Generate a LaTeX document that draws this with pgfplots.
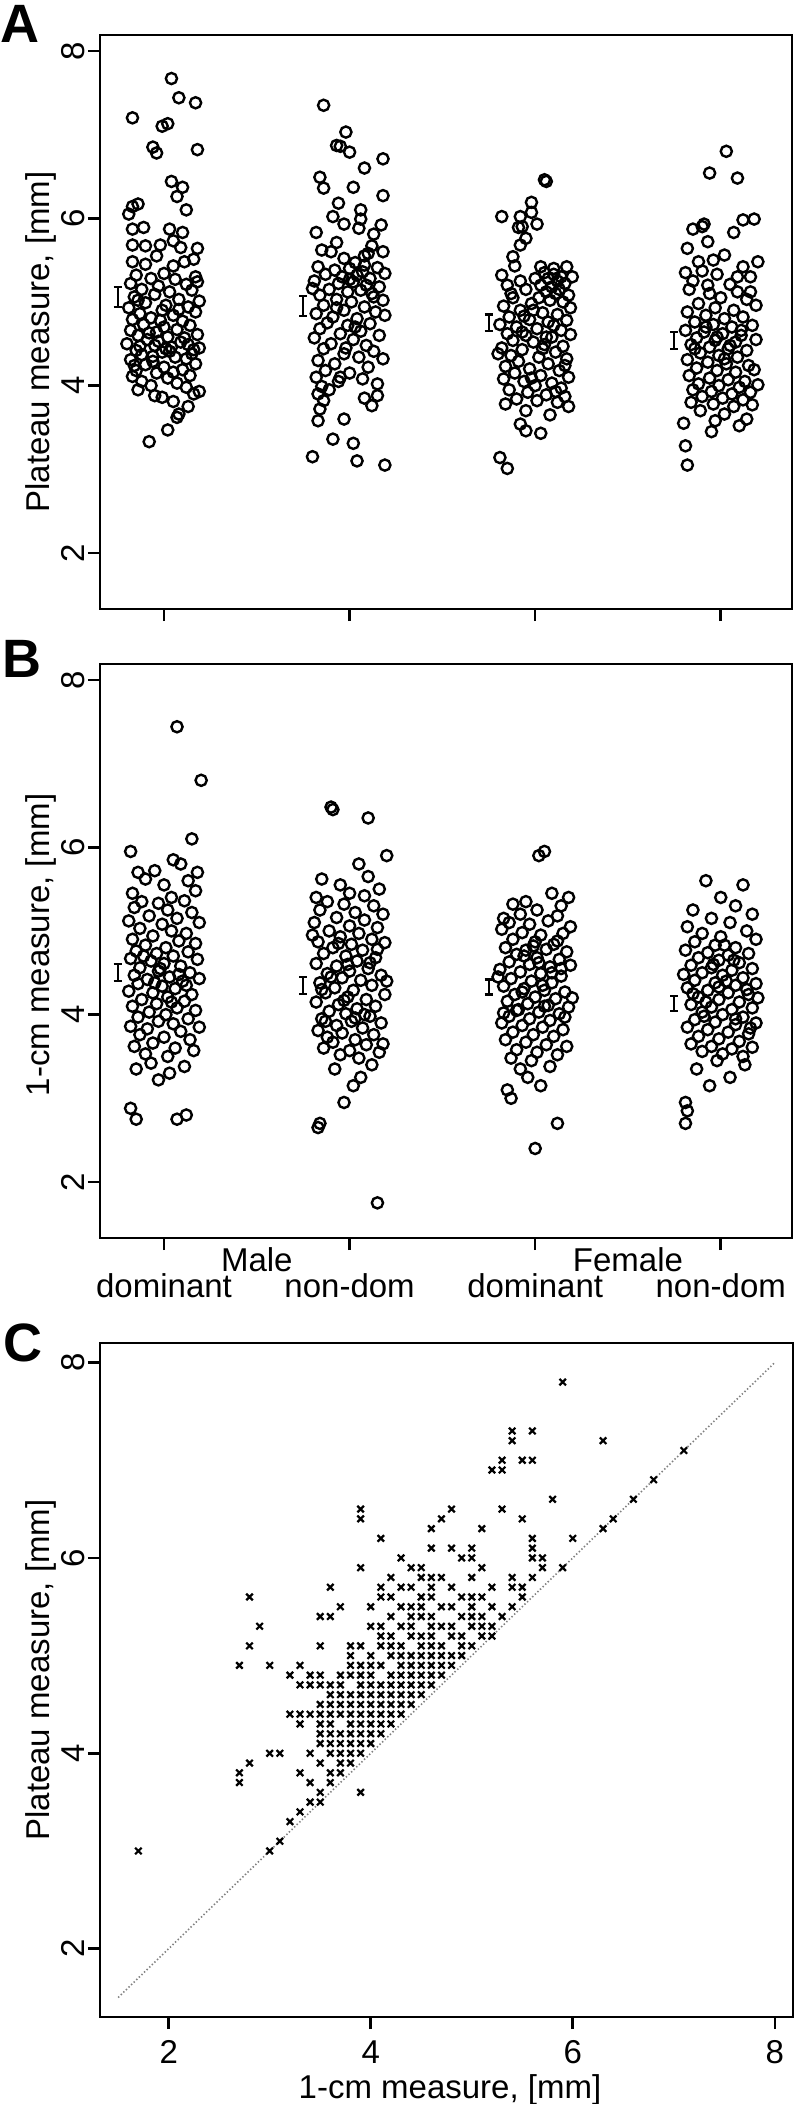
\documentclass[border=0pt]{standalone}
\usepackage{fontspec}
\setmainfont{Liberation Sans}
\usepackage{pgfplots}
\pgfplotsset{compat=1.18}

\pgfplotsset{
  panel/.style={
    scale only axis,
    axis line style={line width=1.3pt},
    every tick/.style={line width=1.3pt, black},
    tick align=outside, major tick length=6pt,
    xtick pos=bottom, ytick pos=left,
    ytick={2,4,6,8},
    ticklabel style={font=\fontsize{16.5}{18}\selectfont},
    yticklabel style={xshift=-1.5pt, rotate=90, anchor=base},
    /pgf/number format/assume math mode=true,
    clip=false,
  },
  strip/.style={panel, width=346pt, height=287pt,
    xmin=0.655, xmax=4.384, ymin=1.33, ymax=8.19, xtick={1,2,3,4}, xticklabels={}},
  ring/.style={only marks, mark=o, mark size=2.8pt, mark options={line width=1.2pt, black}},
  sem/.style={black, line width=1.1pt, unbounded coords=jump},
}
\newcommand{\lab}{\fontsize{16.5}{18}\selectfont}

\begin{document}
\begin{tikzpicture}
\useasboundingbox (0,0) rectangle (397.5pt,-1052pt);

% ---------------- A: plateau measure
\begin{axis}[strip, at={(50pt,-17.5pt)}, anchor=north west]
\addplot[ring] coordinates {
(1.04,7.67)(1.08,7.44)(1.17,7.38)(0.83,7.20)(0.99,7.10)(1.02,7.13)(0.94,6.85)(0.96,6.78)(1.18,6.82)(1.04,6.44)(1.10,6.37)(1.07,6.26)(1.12,6.10)(0.83,6.14)(0.86,6.17)(0.81,6.05)(0.83,5.87)(0.89,5.89)(1.03,5.87)(1.10,5.83)(1.05,5.73)(1.09,5.65)(1.18,5.64)(0.83,5.68)(0.90,5.67)(0.98,5.68)(0.83,5.48)(0.90,5.45)(0.96,5.55)(1.05,5.43)(1.11,5.48)(1.16,5.51)(1.17,5.30)(1.18,5.24)
(0.85,5.32)(0.93,5.28)(1.00,5.34)(1.06,5.27)(0.82,5.22)(0.97,5.19)(1.12,5.21)(0.88,5.15)(1.03,5.12)(1.15,5.14)(0.84,5.06)(0.95,5.09)(1.08,5.03)(0.90,4.99)(1.01,4.96)(1.19,5.01)(0.81,4.93)(0.99,4.90)(1.13,4.94)(0.87,4.86)(1.05,4.84)(1.17,4.88)(0.83,4.79)(0.93,4.81)(1.10,4.77)(0.89,4.73)(1.00,4.70)(1.14,4.72)(0.82,4.66)(0.96,4.64)(1.07,4.67)(0.86,4.60)(1.02,4.58)(1.18,4.61)(0.91,4.55)(1.09,4.52)(0.80,4.50)(0.95,4.48)(1.04,4.46)(1.13,4.49)(0.85,4.42)(0.99,4.40)(1.16,4.43)(0.88,4.37)(1.06,4.34)(0.82,4.31)(0.94,4.29)(1.12,4.32)(0.90,4.25)(1.00,4.22)(1.17,4.26)(0.85,4.18)(0.96,4.15)(1.10,4.19)(0.83,4.11)(1.02,4.09)(1.14,4.12)(0.88,4.05)(1.07,4.03)(0.93,4.00)(1.12,3.98)
(0.92,4.63)(1.11,4.57)(0.87,4.47)(1.03,4.41)(0.97,4.53)(1.15,4.38)(0.84,4.24)(1.05,4.16)(0.98,4.78)(1.08,4.91)(0.86,5.02)(1.01,4.44)(0.94,4.35)(1.19,4.45)
(0.86,3.95)(1.16,3.90)(0.99,3.86)(1.05,3.81)(1.13,3.75)(1.08,3.66)(1.07,3.62)(1.02,3.47)(0.92,3.33)(0.95,3.88)(1.19,3.93)
};
\addplot[ring] coordinates {
(1.86,7.35)(1.98,7.03)(1.93,6.87)(1.95,6.86)(2.00,6.79)(2.08,6.60)(2.18,6.71)(1.84,6.49)(1.86,6.36)(2.02,6.37)(2.18,6.27)(1.94,6.18)(2.06,6.10)(1.91,6.02)(2.06,5.99)(1.97,5.93)(2.05,5.88)(2.17,5.92)(1.82,5.83)(2.13,5.81)(1.93,5.71)(2.12,5.67)(1.85,5.62)(1.90,5.60)(2.18,5.60)(1.97,5.52)(2.03,5.47)(2.08,5.55)(2.10,5.58)
(1.83,5.42)(1.92,5.38)(2.00,5.40)(2.07,5.36)(2.15,5.41)(1.87,5.33)(1.96,5.30)(2.04,5.32)(2.11,5.28)(2.19,5.34)(1.81,5.25)(1.94,5.22)(2.02,5.24)(2.09,5.20)(2.16,5.18)(1.89,5.15)(1.99,5.12)(2.06,5.14)(1.84,5.08)(2.13,5.06)(1.93,5.03)(2.01,5.00)(2.18,5.02)(1.86,4.96)(2.08,4.94)(1.97,4.90)(2.14,4.88)(1.82,4.86)(1.91,4.82)(2.04,4.80)(2.19,4.84)(1.88,4.75)(1.99,4.72)(2.11,4.74)(1.84,4.68)(2.06,4.65)(1.95,4.62)(2.16,4.60)(1.81,4.57)(2.02,4.55)(1.90,4.50)(2.09,4.48)(1.86,4.44)(2.13,4.41)(1.97,4.38)(2.05,4.34)(1.83,4.30)(2.18,4.32)(1.92,4.26)(2.10,4.22)(1.87,4.18)(2.00,4.15)(1.82,4.10)(2.07,4.08)(1.94,4.05)(2.15,4.02)(1.85,3.99)(1.89,3.95)(1.83,3.90)(1.98,4.45)(2.03,4.70)(1.93,4.93)(2.12,5.10)(1.80,5.16)(2.00,5.27)(2.08,5.44)(1.95,4.10)
(1.86,3.82)(1.84,3.72)(2.15,3.88)(2.12,3.76)(1.83,3.58)(1.91,3.36)(2.02,3.31)(1.80,3.15)(2.04,3.10)(2.19,3.05)(1.97,3.60)(2.08,3.85)
};
\addplot[ring] coordinates {
(3.05,6.46)(3.06,6.44)(2.98,6.19)(2.82,6.02)(2.92,6.02)(2.98,6.07)(3.01,5.93)(2.91,5.89)(2.93,5.90)(2.95,5.76)(2.92,5.68)(2.88,5.54)(2.89,5.43)(2.82,5.32)(2.92,5.25)(3.03,5.42)(3.17,5.42)(3.10,5.40)
(3.05,5.35)(3.10,5.33)(3.14,5.30)(3.07,5.28)(3.12,5.25)(3.16,5.22)(3.03,5.20)(3.09,5.18)(3.13,5.15)(3.06,5.12)(3.11,5.10)(3.18,5.08)(3.02,5.05)(3.08,5.02)(3.15,5.00)(2.85,5.20)(2.95,5.15)(2.88,5.05)(2.98,4.98)(2.83,4.95)(3.19,4.93)(2.92,4.90)(3.04,4.87)(3.12,4.85)(2.86,4.82)(2.97,4.79)(3.07,4.76)(3.17,4.78)(2.81,4.73)(2.90,4.70)(3.01,4.68)(3.14,4.66)(2.85,4.62)(2.95,4.60)(3.09,4.58)(3.19,4.61)(2.88,4.54)(2.99,4.52)(3.05,4.49)(3.15,4.47)(2.82,4.45)(2.93,4.43)(3.11,4.40)(2.87,4.36)(3.02,4.34)(3.17,4.32)(2.91,4.29)(3.07,4.26)(2.84,4.23)(2.97,4.20)(3.13,4.18)(2.89,4.15)(3.03,4.12)(3.18,4.10)(2.83,4.08)(2.94,4.05)(3.09,4.03)(3.00,4.00)(3.14,3.97)(2.86,3.95)(2.96,3.92)(3.06,3.89)(3.16,3.87)(2.90,3.84)(3.01,3.82)(3.12,3.80)(2.84,3.78)(3.04,4.44)(2.93,4.64)(3.10,4.72)(2.99,4.90)(3.20,5.30)
(2.87,5.10)(3.00,5.28)(2.94,4.83)(3.06,4.58)(2.80,4.38)(3.16,4.24)(2.98,4.09)(3.11,3.93)
(2.95,3.70)(3.08,3.65)(2.92,3.54)(2.95,3.46)(3.03,3.43)(2.81,3.14)(2.85,3.01)(3.18,3.75)
};
\addplot[ring] coordinates {
(4.03,6.80)(3.94,6.54)(4.09,6.48)(3.85,5.87)(3.90,5.90)(3.91,5.93)(4.07,5.83)(4.12,5.98)(4.18,5.99)(4.02,5.56)(3.88,5.48)(3.96,5.50)(3.82,5.64)(4.20,5.48)(3.93,5.72)(4.12,5.42)
(3.81,5.35)(3.90,5.37)(3.85,5.25)(3.98,5.33)(4.09,5.30)(4.16,5.30)(4.05,5.21)(4.09,5.12)
(3.83,5.15)(3.94,5.10)(4.00,5.05)(4.14,5.03)(3.88,4.98)(4.19,4.96)(3.97,4.93)(4.07,4.90)(3.82,4.88)(3.92,4.84)(4.02,4.80)(4.12,4.82)(3.86,4.76)(3.96,4.73)(4.06,4.70)(4.17,4.72)(3.81,4.66)(3.91,4.64)(4.01,4.62)(4.11,4.60)(3.87,4.57)(3.97,4.54)(4.08,4.52)(4.19,4.55)(3.84,4.49)(3.94,4.46)(4.04,4.44)(4.14,4.42)(3.89,4.39)(3.99,4.36)(4.09,4.34)(3.82,4.31)(3.93,4.28)(4.03,4.26)(4.15,4.24)(3.87,4.21)(3.98,4.18)(4.08,4.16)(4.18,4.19)(3.83,4.12)(3.94,4.09)(4.04,4.07)(4.13,4.05)(3.88,4.02)(3.99,4.00)(4.10,3.98)(4.20,4.01)(3.85,3.95)(3.95,3.93)(4.06,3.90)(4.16,3.92)(3.90,3.87)(4.01,3.85)(4.12,3.83)(3.84,3.80)(3.96,3.78)(4.07,3.75)(4.17,3.77)(3.92,4.70)(4.05,4.48)(3.86,4.44)(4.11,4.66)(3.98,4.58)(4.02,4.32)(3.93,5.20)(4.16,5.12)
(3.89,3.70)(4.02,3.66)(4.14,3.60)(3.97,3.58)(3.80,3.55)(4.10,3.52)(3.81,3.28)(3.82,3.05)(3.95,3.45)
};
% mean +- s.e. bars: stem, lower cap, upper cap
\addplot[sem] coordinates {
(0.75,4.94)(0.75,5.18) (nan,nan) (0.728,4.94)(0.772,4.94) (nan,nan) (0.728,5.18)(0.772,5.18) (nan,nan)
(1.75,4.83)(1.75,5.07) (nan,nan) (1.728,4.83)(1.772,4.83) (nan,nan) (1.728,5.07)(1.772,5.07) (nan,nan)
(2.75,4.65)(2.75,4.85) (nan,nan) (2.728,4.65)(2.772,4.65) (nan,nan) (2.728,4.85)(2.772,4.85) (nan,nan)
(3.75,4.44)(3.75,4.64) (nan,nan) (3.728,4.44)(3.772,4.44) (nan,nan) (3.728,4.64)(3.772,4.64)
};
\end{axis}

% ---------------- B: 1-cm measure
\begin{axis}[strip, at={(50pt,-332pt)}, anchor=north west]
\addplot[ring] coordinates {
(1.07,7.44)(1.20,6.80)(1.15,6.10)(0.82,5.95)(1.05,5.85)(1.09,5.80)(0.86,5.70)(1.18,5.70)(0.95,5.72)(0.90,5.62)(1.13,5.60)(1.00,5.55)(0.83,5.45)(1.17,5.48)(1.04,5.40)
(0.88,5.35)(0.97,5.33)(1.11,5.36)(0.84,5.28)(1.02,5.25)(1.15,5.22)(0.92,5.18)(1.07,5.15)(0.81,5.12)(0.99,5.08)(1.19,5.10)(0.87,5.03)(1.04,5.00)(1.12,4.97)(0.94,4.94)(0.83,4.90)(1.08,4.88)(1.17,4.85)(0.90,4.83)(1.01,4.80)(0.85,4.76)(0.96,4.73)(1.13,4.75)(1.05,4.70)(0.82,4.67)(0.93,4.64)(1.18,4.66)(1.00,4.61)(1.09,4.58)(0.87,4.56)(0.97,4.52)(1.14,4.50)(0.84,4.47)(1.03,4.45)(0.91,4.42)(1.10,4.40)(1.19,4.43)(0.86,4.37)(0.99,4.34)(1.06,4.31)(0.81,4.28)(0.94,4.26)(1.15,4.24)(1.02,4.21)(0.88,4.18)(1.11,4.16)(0.96,4.13)(0.83,4.10)(1.07,4.08)(1.17,4.05)(0.92,4.03)(1.01,4.00)(0.86,3.97)(1.13,3.95)(0.97,3.92)(1.05,3.89)(0.82,3.86)(0.91,3.83)(1.19,3.85)(1.09,3.80)(0.87,3.76)(1.00,3.73)(1.14,3.70)(0.94,3.66)(0.84,3.62)(1.06,3.60)(1.16,3.57)(0.90,3.53)(1.02,3.50)(0.98,4.55)(1.12,4.35)(0.89,4.70)(1.04,4.15)(0.95,4.38)(1.08,4.48)
(0.93,3.42)(1.11,3.38)(0.85,3.35)(1.03,3.30)(0.97,3.22)(0.82,2.88)(0.85,2.75)(1.07,2.75)(1.12,2.80)
};
\addplot[ring] coordinates {
(1.90,6.48)(1.91,6.45)(2.10,6.35)(2.20,5.90)(2.05,5.80)(2.10,5.65)(1.85,5.62)(1.95,5.55)(2.16,5.50)(2.00,5.45)(1.82,5.40)(2.08,5.42)
(1.88,5.35)(1.97,5.32)(2.13,5.30)(1.84,5.25)(2.03,5.22)(2.18,5.20)(1.93,5.16)(2.08,5.13)(1.81,5.10)(2.00,5.06)(2.15,5.04)(1.89,5.00)(2.05,4.97)(1.95,4.93)(2.12,4.90)(1.83,4.87)(2.01,4.84)(2.19,4.86)(1.91,4.80)(2.07,4.77)(1.86,4.73)(1.98,4.70)(2.14,4.68)(2.04,4.64)(1.82,4.61)(1.93,4.58)(2.10,4.55)(2.00,4.52)(1.88,4.49)(2.17,4.47)(1.96,4.44)(2.06,4.41)(1.84,4.38)(2.12,4.35)(1.92,4.32)(2.02,4.29)(1.87,4.26)(2.19,4.24)(1.99,4.21)(2.09,4.18)(1.82,4.15)(1.94,4.12)(2.14,4.10)(2.04,4.07)(1.89,4.04)(1.98,4.01)(2.11,3.98)(1.85,3.95)(2.01,3.92)(2.17,3.90)(1.93,3.87)(2.07,3.84)(1.83,3.81)(1.96,3.78)(2.13,3.76)(1.88,3.73)(2.03,3.70)(1.91,3.67)(2.09,3.64)(1.86,3.60)(2.00,3.57)(2.16,3.55)(1.95,3.52)(2.05,3.48)(1.99,4.60)(2.08,4.00)(1.90,4.45)(2.15,4.78)(1.87,3.92)
(1.80,4.95)(2.20,4.40)(1.94,4.85)(2.11,4.62)(1.85,4.30)(2.03,3.96)(1.97,4.17)(2.18,3.65)
(2.12,3.40)(1.92,3.35)(2.06,3.25)(2.02,3.15)(1.97,2.95)(1.84,2.70)(1.83,2.65)(2.15,1.75)
};
\addplot[ring] coordinates {
(3.05,5.95)(3.02,5.90)(3.18,5.40)(2.88,5.32)(3.14,5.30)(2.95,5.35)(3.09,5.45)(2.83,5.15)(2.92,5.20)
(3.01,5.25)(3.12,5.18)(2.86,5.10)(2.97,5.08)(3.07,5.12)(3.19,5.05)(2.82,5.02)(2.93,4.98)(3.03,4.95)(3.15,4.97)(2.88,4.90)(3.00,4.87)(3.10,4.84)(2.84,4.80)(2.95,4.77)(3.06,4.78)(3.17,4.75)(2.90,4.72)(3.01,4.68)(3.13,4.66)(2.86,4.63)(2.97,4.60)(3.08,4.57)(3.19,4.59)(2.81,4.54)(2.92,4.51)(3.03,4.49)(3.14,4.46)(2.87,4.43)(2.98,4.40)(3.09,4.38)(2.83,4.34)(2.94,4.31)(3.05,4.29)(3.16,4.27)(2.89,4.24)(3.00,4.21)(3.11,4.19)(2.85,4.16)(2.96,4.13)(3.07,4.11)(3.18,4.09)(2.91,4.06)(3.02,4.03)(3.13,4.01)(2.86,3.98)(2.97,3.95)(3.08,3.93)(2.82,3.90)(2.93,3.87)(3.04,3.85)(3.15,3.82)(2.88,3.79)(2.99,3.76)(3.10,3.74)(2.84,3.70)(2.95,3.67)(3.06,3.64)(3.17,3.62)(2.90,3.58)(3.01,3.55)(3.12,3.52)(2.87,3.48)(2.98,3.45)(3.09,4.50)(2.94,4.70)(3.04,4.35)(3.12,4.88)(2.90,4.05)(3.02,4.62)
(2.80,4.45)(3.20,4.20)(2.99,4.82)(3.14,4.55)(2.83,4.02)(3.05,4.10)(2.93,4.27)(3.16,3.97)
(3.08,3.38)(2.92,3.35)(2.96,3.25)(3.03,3.15)(2.85,3.10)(2.87,3.00)(3.12,2.70)(3.00,2.40)
};
\addplot[ring] coordinates {
(3.92,5.60)(4.12,5.55)(4.00,5.40)(4.08,5.30)(3.85,5.25)(4.17,5.20)(3.95,5.15)(4.05,5.10)(3.82,5.05)
(4.14,5.00)(3.90,4.97)(4.00,4.93)(4.19,4.90)(3.86,4.87)(3.97,4.83)(4.08,4.80)(3.81,4.77)(3.93,4.74)(4.04,4.71)(4.15,4.73)(3.88,4.68)(3.99,4.65)(4.10,4.62)(3.84,4.59)(3.95,4.56)(4.06,4.53)(4.17,4.55)(3.90,4.50)(4.01,4.47)(4.12,4.44)(3.86,4.41)(3.97,4.38)(4.08,4.35)(4.19,4.37)(3.82,4.32)(3.93,4.29)(4.04,4.26)(4.15,4.24)(3.88,4.21)(3.99,4.18)(4.10,4.15)(3.84,4.12)(3.95,4.09)(4.06,4.06)(4.17,4.08)(3.90,4.03)(4.01,4.00)(4.12,3.97)(3.86,3.94)(3.97,3.91)(4.08,3.88)(4.19,3.90)(3.82,3.85)(3.93,3.82)(4.04,3.79)(4.15,3.77)(3.88,3.74)(3.99,3.71)(4.10,3.68)(3.84,3.65)(3.95,3.62)(4.06,3.59)(4.17,3.61)(3.90,3.56)(4.01,3.53)(4.12,3.50)(4.03,4.40)(3.92,4.15)(4.08,3.95)(3.96,4.60)(4.14,4.30)
(3.80,4.48)(4.20,4.20)(3.91,3.98)(4.02,4.83)(3.85,4.25)(4.16,3.84)(3.99,4.33)(4.07,4.65)
(3.98,3.45)(4.13,3.40)(3.87,3.35)(4.05,3.25)(3.94,3.15)(3.81,2.95)(3.82,2.85)(3.81,2.70)
};
\addplot[sem] coordinates {
(0.75,4.40)(0.75,4.60) (nan,nan) (0.728,4.40)(0.772,4.40) (nan,nan) (0.728,4.60)(0.772,4.60) (nan,nan)
(1.75,4.25)(1.75,4.45) (nan,nan) (1.728,4.25)(1.772,4.25) (nan,nan) (1.728,4.45)(1.772,4.45) (nan,nan)
(2.75,4.24)(2.75,4.42) (nan,nan) (2.728,4.24)(2.772,4.24) (nan,nan) (2.728,4.42)(2.772,4.42) (nan,nan)
(3.75,4.04)(3.75,4.22) (nan,nan) (3.728,4.04)(3.772,4.04) (nan,nan) (3.728,4.22)(3.772,4.22)
};
\node[anchor=base, font=\lab] at (axis cs:1.5,1.33) [yshift=-16.5pt] {Male};
\node[anchor=base, font=\lab] at (axis cs:3.5,1.33) [yshift=-16.5pt] {Female};
\node[anchor=base, font=\lab] at (axis cs:1,1.33) [yshift=-29.5pt] {dominant};
\node[anchor=base, font=\lab] at (axis cs:2,1.33) [yshift=-29.5pt] {non-dom};
\node[anchor=base, font=\lab] at (axis cs:3,1.33) [yshift=-29.5pt] {dominant};
\node[anchor=base, font=\lab] at (axis cs:4,1.33) [yshift=-29.5pt] {non-dom};
\end{axis}

% ---------------- C: plateau vs 1-cm
\begin{axis}[panel, width=346.5pt, height=337pt, at={(50pt,-671.5pt)}, anchor=north west,
  xmin=1.32, xmax=8.18, ymin=1.3, ymax=8.2, xtick={2,4,6,8},
  xticklabel style={anchor=base, yshift=-17pt}]
\addplot[gray, line width=0.8pt, dash pattern=on 0.7pt off 1.1pt] coordinates {(1.5,1.5) (8,8)};
\addplot[only marks, mark=x, mark size=2.3pt, mark options={line width=1.1pt, black}] coordinates {
(5.9,7.8)(5.4,7.3)(5.6,7.3)(5.4,7.2)(6.3,7.2)(7.1,7.1)(5.3,7.0)(5.5,7.0)(5.6,7.0)(5.2,6.9)(5.3,6.9)(6.8,6.8)(5.8,6.6)(6.6,6.6)
(3.9,6.5)(4.8,6.5)(5.3,6.5)(3.9,6.4)(4.7,6.4)(5.5,6.4)(6.4,6.4)(4.6,6.3)(5.1,6.3)(6.3,6.3)(4.1,6.2)(5.6,6.2)(6.0,6.2)
(4.6,6.1)(4.8,6.1)(5.0,6.1)(5.6,6.1)(4.3,6.0)(4.9,6.0)(5.0,6.0)(5.6,6.0)(5.7,6.0)
(3.9,5.9)(4.4,5.9)(4.5,5.9)(5.1,5.9)(5.7,5.9)(5.9,5.9)
(4.2,5.8)(4.5,5.8)(4.6,5.8)(4.7,5.8)(5.0,5.8)(5.4,5.8)(5.6,5.8)
(3.6,5.7)(4.1,5.7)(4.3,5.7)(4.4,5.7)(4.6,5.7)(4.8,5.7)(5.2,5.7)(5.4,5.7)(5.5,5.7)
(2.8,5.6)(4.1,5.6)(4.2,5.6)(4.5,5.6)(4.6,5.6)(4.9,5.6)(5.0,5.6)(5.1,5.6)(5.5,5.6)
(3.7,5.5)(4.0,5.5)(4.3,5.5)(4.4,5.5)(4.5,5.5)(4.7,5.5)(4.8,5.5)(5.0,5.5)(5.2,5.5)(5.4,5.5)
(3.5,5.4)(3.6,5.4)(4.2,5.4)(4.4,5.4)(4.5,5.4)(4.6,5.4)(4.9,5.4)(5.0,5.4)(5.1,5.4)(5.3,5.4)
(2.9,5.3)(4.0,5.3)(4.1,5.3)(4.3,5.3)(4.4,5.3)(4.6,5.3)(4.7,5.3)(4.8,5.3)(5.0,5.3)(5.1,5.3)(5.2,5.3)
(4.1,5.2)(4.2,5.2)(4.4,5.2)(4.5,5.2)(4.6,5.2)(4.8,5.2)(4.9,5.2)(5.1,5.2)(5.2,5.2)
(2.8,5.1)(3.5,5.1)(3.8,5.1)(3.9,5.1)(4.1,5.1)(4.2,5.1)(4.3,5.1)(4.5,5.1)(4.6,5.1)(4.7,5.1)(4.9,5.1)(5.0,5.1)
(3.8,5.0)(4.0,5.0)(4.2,5.0)(4.3,5.0)(4.4,5.0)(4.5,5.0)(4.6,5.0)(4.7,5.0)(4.8,5.0)(4.9,5.0)
(2.7,4.9)(3.0,4.9)(3.3,4.9)(3.8,4.9)(3.9,4.9)(4.0,4.9)(4.1,4.9)(4.3,4.9)(4.4,4.9)(4.5,4.9)(4.6,4.9)(4.7,4.9)(4.8,4.9)
(3.2,4.8)(3.4,4.8)(3.5,4.8)(3.7,4.8)(3.8,4.8)(3.9,4.8)(4.0,4.8)(4.2,4.8)(4.3,4.8)(4.4,4.8)(4.5,4.8)(4.6,4.8)(4.7,4.8)
(3.3,4.7)(3.4,4.7)(3.5,4.7)(3.6,4.7)(3.7,4.7)(3.9,4.7)(4.0,4.7)(4.1,4.7)(4.2,4.7)(4.3,4.7)(4.4,4.7)(4.5,4.7)(4.6,4.7)
(3.6,4.6)(3.7,4.6)(3.8,4.6)(3.9,4.6)(4.0,4.6)(4.1,4.6)(4.2,4.6)(4.3,4.6)(4.4,4.6)(4.5,4.6)
(3.5,4.5)(3.6,4.5)(3.7,4.5)(3.8,4.5)(3.9,4.5)(4.0,4.5)(4.1,4.5)(4.2,4.5)(4.3,4.5)(4.4,4.5)
(3.2,4.4)(3.3,4.4)(3.4,4.4)(3.5,4.4)(3.6,4.4)(3.7,4.4)(3.8,4.4)(3.9,4.4)(4.0,4.4)(4.1,4.4)(4.2,4.4)(4.3,4.4)
(3.3,4.3)(3.5,4.3)(3.6,4.3)(3.8,4.3)(3.9,4.3)(4.0,4.3)(4.1,4.3)(4.2,4.3)
(3.5,4.2)(3.6,4.2)(3.7,4.2)(3.8,4.2)(3.9,4.2)(4.0,4.2)(4.1,4.2)
(3.5,4.1)(3.6,4.1)(3.7,4.1)(3.8,4.1)(3.9,4.1)(4.0,4.1)
(3.0,4.0)(3.1,4.0)(3.4,4.0)(3.6,4.0)(3.7,4.0)(3.8,4.0)(3.9,4.0)
(2.8,3.9)(3.5,3.9)(3.7,3.9)(3.8,3.9)(2.7,3.8)(3.3,3.8)(3.6,3.8)(3.7,3.8)(2.7,3.7)(3.4,3.7)(3.6,3.7)
(3.5,3.6)(3.9,3.6)(3.4,3.5)(3.5,3.5)(3.3,3.4)(3.2,3.3)(3.1,3.1)(1.7,3.0)(3.0,3.0)
};
\end{axis}

% panel letters and axis titles
\node[anchor=base west, inner sep=0, font=\fontsize{27}{27}\selectfont\bfseries] at (0pt,-21pt) {A};
\node[anchor=base west, inner sep=0, font=\fontsize{27}{27}\selectfont\bfseries] at (1pt,-338.5pt) {B};
\node[anchor=base west, inner sep=0, font=\fontsize{27}{27}\selectfont\bfseries] at (1.5pt,-680.5pt) {C};
\node[rotate=90, anchor=base, inner sep=0, font=\lab] at (24.5pt,-171pt) {Plateau measure, [mm]};
\node[rotate=90, anchor=base, inner sep=0, font=\lab] at (24.5pt,-472.5pt) {1-cm measure, [mm]};
\node[rotate=90, anchor=base, inner sep=0, font=\lab] at (24.5pt,-835pt) {Plateau measure, [mm]};
\node[anchor=base, inner sep=0, font=\lab] at (225pt,-1049pt) {1-cm measure, [mm]};
\end{tikzpicture}
\end{document}
